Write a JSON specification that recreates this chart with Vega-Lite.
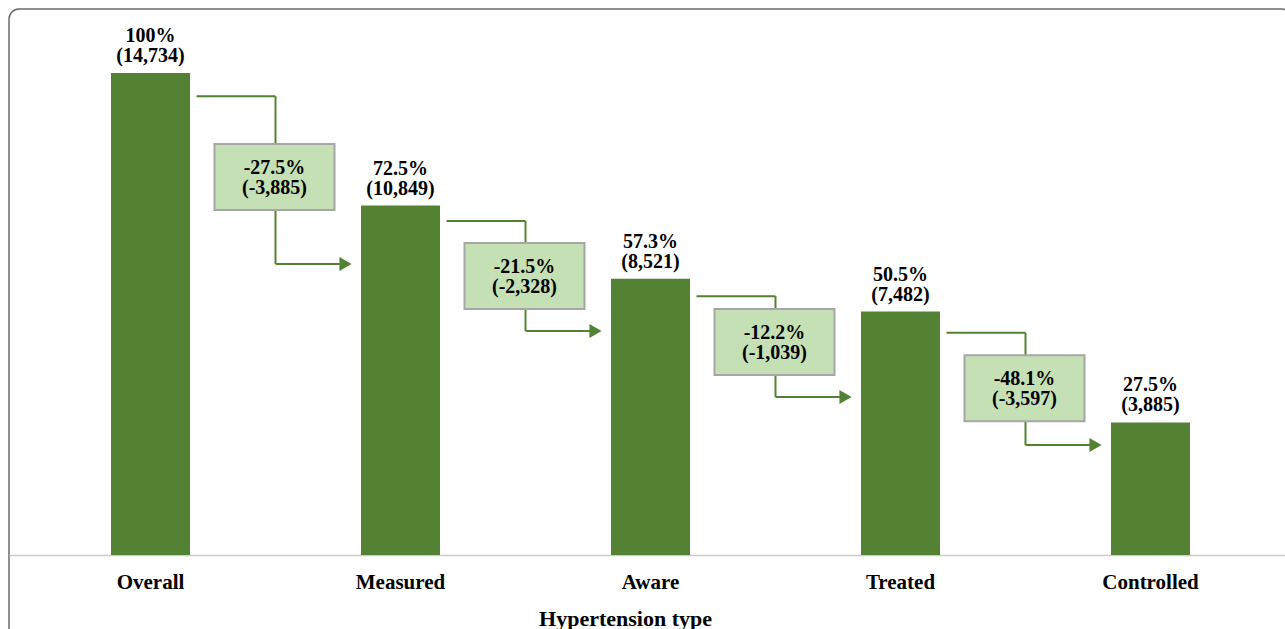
{
  "$schema": "https://vega.github.io/schema/vega-lite/v6.json",
  "width": 1283,
  "height": 640,
  "autosize": {"type": "none"},
  "padding": {"left": 9, "top": 9, "right": 0, "bottom": 0},
  "background": "white",
  "config": {
    "view": {"stroke": "#6b6b6b", "strokeWidth": 1.5, "cornerRadius": 10, "fill": "white"},
    "font": "Liberation Serif"
  },
  "datasets": {
    "stages": [
      {"stage": "Overall", "pct": 100, "label": "100%\n(14,734)"},
      {"stage": "Measured", "pct": 72.5, "label": "72.5%\n(10,849)"},
      {"stage": "Aware", "pct": 57.3, "label": "57.3%\n(8,521)"},
      {"stage": "Treated", "pct": 50.5, "label": "50.5%\n(7,482)"},
      {"stage": "Controlled", "pct": 27.5, "label": "27.5%\n(3,885)"}
    ],
    "steps": [
      {"from": "Overall", "to": "Measured", "y_from": 95.2, "y_to": 60.4, "y_box": 78.4, "label": "-27.5%\n(-3,885)"},
      {"from": "Measured", "to": "Aware", "y_from": 69.3, "y_to": 46.5, "y_box": 57.9, "label": "-21.5%\n(-2,328)"},
      {"from": "Aware", "to": "Treated", "y_from": 53.7, "y_to": 32.8, "y_box": 44.2, "label": "-12.2%\n(-1,039)"},
      {"from": "Treated", "to": "Controlled", "y_from": 46.1, "y_to": 22.8, "y_box": 34.6, "label": "-48.1%\n(-3,597)"}
    ]
  },
  "layer": [
    {
      "data": {"name": "stages"},
      "mark": {"type": "bar", "color": "#548235"},
      "encoding": {
        "x": {
          "field": "stage", "type": "nominal", "title": "Hypertension type",
          "scale": {"type": "band", "domain": ["Overall", "Measured", "Aware", "Treated", "Controlled"], "paddingInner": 0.684, "paddingOuter": 0.408, "align": 0.5},
          "axis": {
            "offset": -94, "domainColor": "#cccccc", "domainWidth": 1.5, "ticks": false, "tickSize": 0,
            "labelFont": "Liberation Serif", "labelFontWeight": "bold", "labelFontSize": 21, "labelColor": "black",
            "labelPadding": 16, "labelAngle": 0,
            "titleFont": "Liberation Serif", "titleFontWeight": "bold", "titleFontSize": 22, "titleColor": "black",
            "titleX": 616, "titleY": 70, "titleBaseline": "alphabetic", "titleAlign": "center"
          }
        },
        "y": {"field": "pct", "type": "quantitative", "axis": null, "scale": {"domain": [-19.5, 113.28], "nice": false, "zero": false}},
        "y2": {"datum": 0}
      }
    },
    {
      "data": {"name": "stages"},
      "mark": {"type": "text", "font": "Liberation Serif", "fontWeight": "bold", "fontSize": 20, "lineBreak": "\n", "lineHeight": 20, "baseline": "bottom", "dy": -27, "color": "black"},
      "encoding": {
        "x": {"field": "stage", "type": "nominal", "title": "Hypertension type", "scale": {"type": "band"}},
        "y": {"field": "pct", "type": "quantitative"},
        "text": {"field": "label"}
      }
    },
    {
      "data": {"name": "steps"},
      "mark": {"type": "rule", "color": "#548235", "strokeWidth": 2, "xOffset": 46, "x2Offset": 125},
      "encoding": {
        "x": {"field": "from", "type": "nominal", "title": "Hypertension type", "scale": {"type": "band"}},
        "x2": {"field": "from"},
        "y": {"field": "y_from", "type": "quantitative"}
      }
    },
    {
      "data": {"name": "steps"},
      "mark": {"type": "rule", "color": "#548235", "strokeWidth": 2, "xOffset": 125},
      "encoding": {
        "x": {"field": "from", "type": "nominal", "title": "Hypertension type", "scale": {"type": "band"}},
        "y": {"field": "y_from", "type": "quantitative"},
        "y2": {"field": "y_to"}
      }
    },
    {
      "data": {"name": "steps"},
      "mark": {"type": "rule", "color": "#548235", "strokeWidth": 2, "xOffset": 125, "x2Offset": -56},
      "encoding": {
        "x": {"field": "from", "type": "nominal", "title": "Hypertension type", "scale": {"type": "band"}},
        "x2": {"field": "to"},
        "y": {"field": "y_to", "type": "quantitative"}
      }
    },
    {
      "data": {"name": "steps"},
      "mark": {"type": "point", "shape": "triangle-right", "filled": true, "size": 196, "color": "#548235", "opacity": 1, "xOffset": -55},
      "encoding": {
        "x": {"field": "to", "type": "nominal", "title": "Hypertension type", "scale": {"type": "band"}},
        "y": {"field": "y_to", "type": "quantitative"}
      }
    },
    {
      "data": {"name": "steps"},
      "mark": {"type": "point", "shape": "M-1,-0.55H1V0.55H-1Z", "size": 14400, "filled": true, "fill": "#c5e0b4", "stroke": "#a6a6a6", "strokeWidth": 2, "opacity": 1, "fillOpacity": 1, "xOffset": 124},
      "encoding": {
        "x": {"field": "from", "type": "nominal", "title": "Hypertension type", "scale": {"type": "band"}},
        "y": {"field": "y_box", "type": "quantitative"}
      }
    },
    {
      "data": {"name": "steps"},
      "mark": {"type": "text", "font": "Liberation Serif", "fontWeight": "bold", "fontSize": 20, "lineBreak": "\n", "lineHeight": 20, "baseline": "middle", "dy": -9, "color": "black", "xOffset": 124},
      "encoding": {
        "x": {"field": "from", "type": "nominal", "title": "Hypertension type", "scale": {"type": "band"}},
        "y": {"field": "y_box", "type": "quantitative"},
        "text": {"field": "label"}
      }
    }
  ]
}
